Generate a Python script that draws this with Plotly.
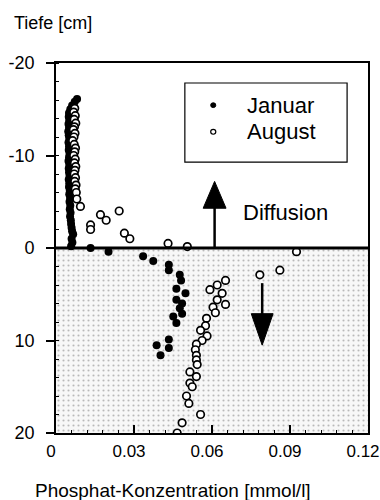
import plotly.graph_objects as go

# Phosphate profiles: water column (negative depth) and sediment (positive depth)
jan_conc = [0.0081, 0.0072, 0.0062, 0.0055, 0.0050, 0.0049, 0.0051, 0.0048, 0.0050, 0.0047,
            0.0049, 0.0051, 0.0048, 0.0050, 0.0049, 0.0052, 0.0050, 0.0048, 0.0051, 0.0049,
            0.0050, 0.0052, 0.0049, 0.0051, 0.0050, 0.0053, 0.0051, 0.0054, 0.0052, 0.0055,
            0.0053, 0.0056, 0.0054, 0.0057, 0.0058, 0.0060, 0.0062, 0.0066, 0.0060, 0.0063,
            0.0058,
            0.0133, 0.0202, 0.0335, 0.0374, 0.0434, 0.0434, 0.0476, 0.0481, 0.0463, 0.0498,
            0.0463, 0.0485, 0.0476, 0.0485, 0.0451, 0.0463, 0.0434, 0.0387, 0.0434, 0.0402]
jan_depth = [-16.1, -15.8, -15.4, -15.0, -14.6, -14.2, -13.8, -13.4, -13.0, -12.6,
             -12.2, -11.8, -11.4, -11.0, -10.6, -10.2, -9.8, -9.4, -9.0, -8.6,
             -8.2, -7.8, -7.4, -7.0, -6.6, -6.2, -5.8, -5.4, -5.0, -4.6,
             -4.2, -3.8, -3.4, -3.0, -2.6, -2.2, -1.8, -1.5, -1.0, -0.6,
             -0.2,
             0.0, 0.4, 0.9, 1.4, 1.8, 2.4, 2.9, 3.5, 4.4, 4.9,
             5.6, 6.0, 6.5, 7.1, 7.4, 8.1, 9.9, 10.5, 10.8, 11.6]

aug_conc = [0.0072, 0.0068, 0.0074, 0.0070, 0.0076, 0.0071, 0.0067, 0.0073, 0.0069, 0.0064,
            0.0070, 0.0075, 0.0072, 0.0068, 0.0074, 0.0071, 0.0076, 0.0073, 0.0070, 0.0075,
            0.0072, 0.0077, 0.0074, 0.0078, 0.0080, 0.0094,
            0.0133, 0.0133, 0.0171, 0.0193, 0.0243, 0.0263, 0.0284, 0.0431, 0.0505,
            0.0925, 0.0784, 0.0861, 0.0652, 0.0620, 0.0592, 0.0639, 0.0620, 0.0652, 0.0604,
            0.0613, 0.0579, 0.0575, 0.0556, 0.0581, 0.0562, 0.0540, 0.0536, 0.0540, 0.0540,
            0.0543, 0.0515, 0.0540, 0.0515, 0.0524, 0.0502, 0.0511, 0.0556, 0.0485, 0.0466]
aug_depth = [-15.1, -14.7, -14.3, -13.9, -13.5, -13.1, -12.8, -12.4, -12.0, -11.6,
             -11.2, -10.8, -10.4, -10.0, -9.6, -9.2, -8.8, -8.4, -8.0, -7.6,
             -7.2, -6.8, -6.4, -6.0, -5.3, -4.5,
             -2.5, -2.0, -3.6, -3.0, -4.0, -1.6, -1.0, -0.5, -0.15,
             0.4, 2.9, 2.4, 3.5, 4.0, 4.5, 4.9, 5.6, 6.1, 6.4,
             7.0, 7.6, 8.4, 8.9, 9.5, 10.0, 10.4, 11.0, 11.6, 12.1,
             12.6, 13.4, 13.9, 14.6, 15.0, 16.0, 16.8, 18.0, 18.9, 20.0]

x_ticks = [0, 0.03, 0.06, 0.09, 0.12]
x_tick_labels = ["0", "0.03", "0.06", "0.09", "0.12"]
y_ticks = [-20, -10, 0, 10, 20]
y_tick_labels = ["-20", "-10", "0", "10", "20"]

x_range = [0, 0.12]
y_range = [20, -20]
sediment_top = 0
sediment_bottom = 20

FONT = "Liberation Sans, Arial, sans-serif"

fig = go.Figure()

# stippled sediment body
fig.add_trace(go.Scatter(
    x=[x_range[0], x_range[1], x_range[1], x_range[0], x_range[0]],
    y=[sediment_top, sediment_top, sediment_bottom, sediment_bottom, sediment_top],
    mode="lines", line=dict(width=0), fill="toself", fillcolor="white",
    fillpattern=dict(shape=".", size=5, solidity=0.14, fgcolor="#7a7a7a", bgcolor="#f7f7f7"),
    hoverinfo="skip", showlegend=False))

fig.add_trace(go.Scatter(
    x=jan_conc, y=jan_depth, mode="markers", name="Januar",
    marker=dict(symbol="circle", size=8, color="black", line=dict(width=0)),
    showlegend=False))

fig.add_trace(go.Scatter(
    x=aug_conc, y=aug_depth, mode="markers", name="August",
    marker=dict(symbol="circle", size=7.5, color="white", line=dict(width=1.7, color="black")),
    showlegend=False))

shapes = [
    # sediment surface
    dict(type="line", xref="x", yref="y", x0=x_range[0], x1=x_range[1], y0=sediment_top, y1=sediment_top,
         line=dict(color="black", width=3)),
    # upward diffusion arrow
    dict(type="line", xref="x", yref="y", x0=0.061, x1=0.061, y0=0, y1=-4.6,
         line=dict(color="black", width=2.5)),
    dict(type="path", xref="x", yref="y", path="M 0.0566 -4.3 L 0.061 -7.2 L 0.0654 -4.3 Z",
         fillcolor="black", line=dict(color="black", width=1)),
    # downward arrow in sediment
    dict(type="line", xref="x", yref="y", x0=0.0793, x1=0.0793, y0=3.8, y1=7.3,
         line=dict(color="black", width=2.5)),
    dict(type="path", xref="x", yref="y", path="M 0.0751 7.1 L 0.0793 10.5 L 0.0835 7.1 Z",
         fillcolor="black", line=dict(color="black", width=1)),
    # legend box
    dict(type="rect", xref="paper", yref="paper", x0=0.413, x1=0.933, y0=0.732, y1=0.946,
         fillcolor="white", line=dict(color="black", width=1.2)),
    dict(type="circle", xref="paper", yref="paper", x0=0.4958, x1=0.5122, y0=0.8795, y1=0.8925,
         fillcolor="black", line=dict(color="black", width=1)),
    dict(type="circle", xref="paper", yref="paper", x0=0.4958, x1=0.5122, y0=0.8075, y1=0.8205,
         fillcolor="white", line=dict(color="black", width=1.2)),
]

annotations = [
    dict(text="Januar", xref="paper", yref="paper", x=0.605, y=0.886, xanchor="left", yanchor="middle",
         showarrow=False, font=dict(family=FONT, size=22, color="black")),
    dict(text="August", xref="paper", yref="paper", x=0.605, y=0.814, xanchor="left", yanchor="middle",
         showarrow=False, font=dict(family=FONT, size=22, color="black")),
    dict(text="Diffusion", xref="paper", yref="paper", x=0.593, y=0.597, xanchor="left", yanchor="middle",
         showarrow=False, font=dict(family=FONT, size=22, color="black")),
    dict(text="Tiefe [cm]", xref="paper", yref="paper", x=-0.14, y=1.0, xanchor="left", yanchor="bottom",
         yshift=28, showarrow=False, font=dict(family=FONT, size=18, color="black")),
    dict(text="Phosphat-Konzentration [mmol/l]", xref="paper", yref="paper", x=0.375, y=0.0,
         xanchor="center", yanchor="middle", yshift=-57, showarrow=False,
         font=dict(family=FONT, size=19, color="black")),
]

fig.update_layout(
    width=380, height=500,
    margin=dict(l=56, r=12, t=63, b=67, autoexpand=False),
    paper_bgcolor="white", plot_bgcolor="white",
    font=dict(family=FONT, size=18, color="black"),
    shapes=shapes, annotations=annotations,
    showlegend=False,
)

fig.update_xaxes(
    range=x_range, tickvals=x_ticks, ticktext=x_tick_labels,
    showgrid=False, zeroline=False, automargin=False,
    showline=True, linecolor="black", linewidth=1.8, mirror=True,
    ticks="inside", ticklen=8, tickwidth=1.5, tickcolor="black",
    minor=dict(ticks="inside", ticklen=3, tickwidth=1, tickcolor="black", dtick=0.006),
    tickfont=dict(family=FONT, size=17), ticklabeloverflow="allow",
    ticklabelshift=-5, ticklabelstandoff=2,
)

fig.update_yaxes(
    range=y_range, tickvals=y_ticks, ticktext=y_tick_labels,
    showgrid=False, zeroline=False, automargin=False,
    showline=True, linecolor="black", linewidth=1.8, mirror=True,
    ticks="outside", ticklen=8, tickwidth=1.5, tickcolor="black",
    minor=dict(ticks="inside", ticklen=3, tickwidth=1, tickcolor="black", dtick=2),
    tickfont=dict(family=FONT, size=18), ticklabeloverflow="allow",
    ticklabelstandoff=8,
)

fig.write_html("out.html")
